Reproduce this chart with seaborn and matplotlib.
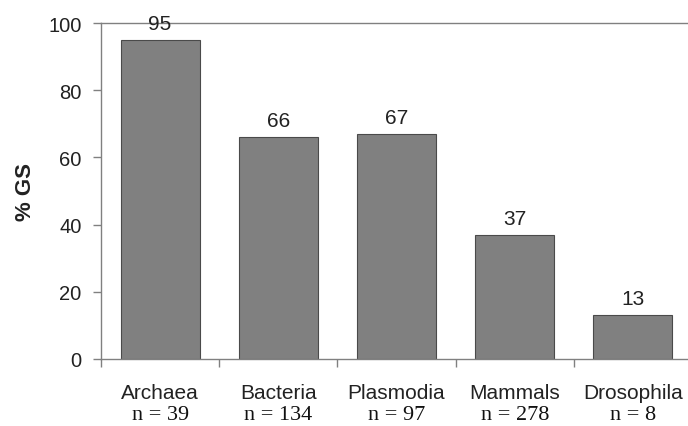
import matplotlib
matplotlib.use("Agg")
import matplotlib.pyplot as plt
import seaborn as sns
import pandas as pd

# data
groups = ["Archaea", "Bacteria", "Plasmodia", "Mammals", "Drosophila"]
n_labels = ["n = 39", "n = 134", "n = 97", "n = 278", "n = 8"]
pct_gs = [95, 66, 67, 37, 13]

sns.set_style("white")
plt.rcParams['font.family'] = ['Liberation Sans', 'DejaVu Sans']

df = pd.DataFrame({'group': groups, 'pct': pct_gs})

fig = plt.figure(figsize=(6.88, 4.27), dpi=100)
ax = fig.add_axes([101 / 688, 67 / 427, 591 / 688, 336 / 427])

sns.barplot(data=df, x='group', y='pct', color='#808080', width=0.67,
            edgecolor='#4a4a4a', linewidth=0.8, saturation=1, ax=ax)

ax.set_xlim(-0.5, 4.5)
ax.set_ylim(0, 100)
ax.set_yticks(range(0, 101, 20))

line_col = '#808080'
for side in ['left', 'bottom', 'top']:
    ax.spines[side].set_color(line_col)
    ax.spines[side].set_linewidth(1.0)
ax.spines['right'].set_visible(False)

# category labels with no tick; boundary ticks as minor ticks
ax.set_xticks(range(len(groups)))
ax.set_xticklabels(groups, fontsize=15, color='#222222')
ax.set_xticks([i - 0.5 for i in range(len(groups) + 1)], minor=True)
ax.tick_params(axis='x', which='major', length=0, pad=17)
ax.tick_params(axis='x', which='minor', length=6, width=1, color=line_col, direction='out', bottom=True)
ax.tick_params(axis='y', length=6, width=1, color=line_col, direction='out', left=True,
               labelsize=14.5, labelcolor='#222222', pad=8)

for i, lab in enumerate(n_labels):
    ax.text(i, -0.165, lab, transform=ax.get_xaxis_transform(), ha='center', va='center',
            fontsize=16, family=['Liberation Serif', 'DejaVu Serif'], color='#111111')

ax.bar_label(ax.containers[0], labels=[str(v) for v in pct_gs], padding=5,
             fontsize=15, color='#222222')

ax.set_xlabel('')
ax.set_ylabel('% GS', fontsize=16, fontweight='bold', color='#222222')
ax.yaxis.set_label_coords(-0.11, 0.5)

fig.savefig('out.png', dpi=100)
